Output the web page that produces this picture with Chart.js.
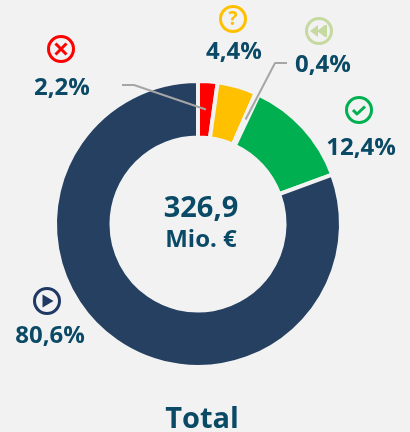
<!DOCTYPE html>
<html><head><meta charset="utf-8">
<style>html,body{margin:0;padding:0;background:#f2f2f2;width:410px;height:432px;overflow:hidden}canvas{display:block}</style>
<script src="https://cdn.jsdelivr.net/npm/chart.js@4"></script></head>
<body><div style="width:410px;height:432px;position:relative"><canvas id="c"></canvas></div>
<script>
const categories = ['Abgelehnt','Offen','Zurück','Genehmigt','Laufend'];
const values = [2.2,4.4,0.4,12.4,80.6];
const sliceColors = ['#ff0000','#ffc000','#c5d9a0','#00b050','#264061'];
const centerValue = '326,9';
const centerUnit = 'Mio. €';
const chartTitle = 'Total';

const FONT='"Open Sans"';
const TEXT='#0b4a66';
// label / icon layout, per slice
const labelPos=[[62,88],[234,52],[323,65],[361,148],[50,336]];
const iconPos=[[61,49],[233,19],[319,31],[359,110],[47,301]];
const iconColor=['#ff0000','#ffc000','#c5d9a0','#00b050','#1f3864'];

function icon(ctx,i){
  const [x,y]=iconPos[i],col=iconColor[i];
  ctx.save();ctx.translate(x,y);
  ctx.strokeStyle=col;ctx.fillStyle=col;ctx.lineWidth=3;
  ctx.beginPath();ctx.arc(0,0,12.5,0,Math.PI*2);ctx.stroke();
  ctx.lineCap='butt';
  if(i===0){ctx.lineWidth=3;ctx.beginPath();ctx.moveTo(-5.5,-5.5);ctx.lineTo(5.5,5.5);ctx.moveTo(5.5,-5.5);ctx.lineTo(-5.5,5.5);ctx.stroke();}
  if(i===1){ctx.font='bold 19px '+FONT;ctx.textAlign='center';ctx.textBaseline='middle';ctx.fillText('?',0,0.5);}
  if(i===2){ctx.beginPath();ctx.moveTo(-9,0);ctx.lineTo(-1,-6);ctx.lineTo(-1,6);ctx.closePath();ctx.fill();
    ctx.beginPath();ctx.moveTo(-2,0);ctx.lineTo(6,-6);ctx.lineTo(6,6);ctx.closePath();ctx.fill();
    ctx.fillRect(6,-6,2,12);}
  if(i===3){ctx.lineWidth=3;ctx.beginPath();ctx.moveTo(-6,0);ctx.lineTo(-2,4);ctx.lineTo(6,-3.5);ctx.stroke();}
  if(i===4){ctx.beginPath();ctx.moveTo(-4.5,-6.5);ctx.lineTo(6.5,0);ctx.lineTo(-4.5,6.5);ctx.closePath();ctx.fill();}
  ctx.restore();
}
const overlay={id:'overlay',afterDraw(ch){
  const ctx=ch.ctx,arcs=ch.getDatasetMeta(0).data,a=ch.chartArea;
  const cx=(a.left+a.right)/2,cy=(a.top+a.bottom)/2;
  ctx.save();
  // leader lines start at the middle of their slices
  ctx.strokeStyle='#a6a6a6';ctx.lineWidth=2;ctx.lineJoin='round';
  const p0=arcs[0].getCenterPoint(),p2=arcs[2].getCenterPoint();
  ctx.beginPath();ctx.moveTo(p0.x,p0.y);ctx.lineTo(134,85);ctx.lineTo(122,85);ctx.stroke();
  ctx.beginPath();ctx.moveTo(p2.x,p2.y);ctx.lineTo(275,63);ctx.lineTo(287,63);ctx.stroke();
  ctx.textAlign='center';ctx.textBaseline='middle';ctx.fillStyle=TEXT;
  ctx.font='bold 24px '+FONT;
  values.forEach((v,i)=>{ctx.fillText(v.toFixed(1).replace('.',',')+'%',labelPos[i][0],labelPos[i][1]);icon(ctx,i);ctx.fillStyle=TEXT;});
  ctx.font='bold 29px '+FONT;ctx.fillText(centerValue,cx+3,cy-15);
  ctx.font='bold 24px '+FONT;ctx.fillText(centerUnit,cx+3,cy+16);
  ctx.font='bold 29px '+FONT;ctx.fillText(chartTitle,202,420);
  ctx.restore();
}};
new Chart(document.getElementById('c'),{
  type:'doughnut',
  data:{labels:categories,datasets:[{data:values,backgroundColor:sliceColors,borderColor:'#f2f2f2',borderWidth:4}]},
  options:{responsive:true,maintainAspectRatio:false,animation:false,cutout:'60.5%',
    layout:{padding:{left:53,right:67,top:79,bottom:63}},
    plugins:{legend:{display:false},tooltip:{enabled:false}}},
  plugins:[overlay]
});
</script></body></html>
